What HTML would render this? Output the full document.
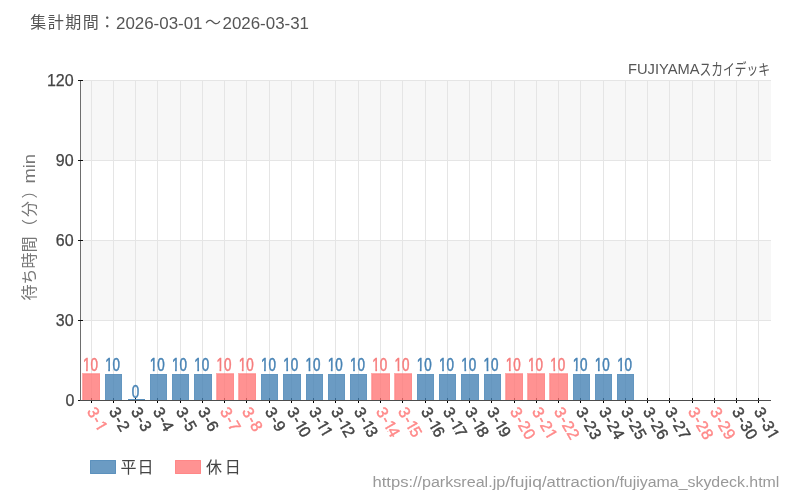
<!DOCTYPE html>
<html lang="ja"><head><meta charset="utf-8"><title>FUJIYAMAスカイデッキ 待ち時間</title>
<style>html,body{margin:0;padding:0;background:#fff;}body{width:800px;height:500px;overflow:hidden;}svg{display:block;font-family:'Liberation Sans', 'Noto Sans CJK JP', sans-serif;}</style></head><body>
<svg width="800" height="500" viewBox="0 0 800 500">
<defs><clipPath id="c1"><rect x="-3" y="-12" width="45" height="15.60"/><rect x="0.20" y="2.60" width="8.4" height="6"/><rect x="10.10" y="2.60" width="5.0" height="6"/><rect x="19.82" y="2.60" width="2.02" height="4"/></clipPath><clipPath id="c10"><rect x="-3" y="-12" width="45" height="15.60"/><rect x="0.20" y="2.60" width="8.4" height="6"/><rect x="10.10" y="2.60" width="5.0" height="6"/><rect x="19.22" y="2.60" width="2.02" height="4"/><rect x="23.50" y="2.60" width="7.7" height="6"/></clipPath><clipPath id="c11"><rect x="-3" y="-12" width="45" height="15.60"/><rect x="0.20" y="2.60" width="8.4" height="6"/><rect x="10.10" y="2.60" width="5.0" height="6"/><rect x="19.22" y="2.60" width="2.02" height="4"/><rect x="26.32" y="2.60" width="2.02" height="4"/></clipPath><clipPath id="c12"><rect x="-3" y="-12" width="45" height="15.60"/><rect x="0.20" y="2.60" width="8.4" height="6"/><rect x="10.10" y="2.60" width="5.0" height="6"/><rect x="19.22" y="2.60" width="2.02" height="4"/><rect x="23.50" y="2.60" width="7.7" height="6"/></clipPath><clipPath id="c13"><rect x="-3" y="-12" width="45" height="15.60"/><rect x="0.20" y="2.60" width="8.4" height="6"/><rect x="10.10" y="2.60" width="5.0" height="6"/><rect x="19.22" y="2.60" width="2.02" height="4"/><rect x="23.50" y="2.60" width="7.7" height="6"/></clipPath><clipPath id="c14"><rect x="-3" y="-12" width="45" height="15.60"/><rect x="0.20" y="2.60" width="8.4" height="6"/><rect x="10.10" y="2.60" width="5.0" height="6"/><rect x="19.22" y="2.60" width="2.02" height="4"/><rect x="23.50" y="2.60" width="7.7" height="6"/></clipPath><clipPath id="c15"><rect x="-3" y="-12" width="45" height="15.60"/><rect x="0.20" y="2.60" width="8.4" height="6"/><rect x="10.10" y="2.60" width="5.0" height="6"/><rect x="19.22" y="2.60" width="2.02" height="4"/><rect x="23.50" y="2.60" width="7.7" height="6"/></clipPath><clipPath id="c16"><rect x="-3" y="-12" width="45" height="15.60"/><rect x="0.20" y="2.60" width="8.4" height="6"/><rect x="10.10" y="2.60" width="5.0" height="6"/><rect x="19.22" y="2.60" width="2.02" height="4"/><rect x="23.50" y="2.60" width="7.7" height="6"/></clipPath><clipPath id="c17"><rect x="-3" y="-12" width="45" height="15.60"/><rect x="0.20" y="2.60" width="8.4" height="6"/><rect x="10.10" y="2.60" width="5.0" height="6"/><rect x="19.22" y="2.60" width="2.02" height="4"/><rect x="23.50" y="2.60" width="7.7" height="6"/></clipPath><clipPath id="c18"><rect x="-3" y="-12" width="45" height="15.60"/><rect x="0.20" y="2.60" width="8.4" height="6"/><rect x="10.10" y="2.60" width="5.0" height="6"/><rect x="19.22" y="2.60" width="2.02" height="4"/><rect x="23.50" y="2.60" width="7.7" height="6"/></clipPath><clipPath id="c19"><rect x="-3" y="-12" width="45" height="15.60"/><rect x="0.20" y="2.60" width="8.4" height="6"/><rect x="10.10" y="2.60" width="5.0" height="6"/><rect x="19.22" y="2.60" width="2.02" height="4"/><rect x="23.50" y="2.60" width="7.7" height="6"/></clipPath><clipPath id="c21"><rect x="-3" y="-12" width="45" height="15.60"/><rect x="0.20" y="2.60" width="8.4" height="6"/><rect x="10.10" y="2.60" width="5.0" height="6"/><rect x="16.30" y="2.60" width="8.4" height="6"/><rect x="28.92" y="2.60" width="2.02" height="4"/></clipPath><clipPath id="c31"><rect x="-3" y="-12" width="45" height="15.60"/><rect x="0.20" y="2.60" width="8.4" height="6"/><rect x="10.10" y="2.60" width="5.0" height="6"/><rect x="16.30" y="2.60" width="8.4" height="6"/><rect x="28.92" y="2.60" width="2.02" height="4"/></clipPath><clipPath id="c10v"><rect x="-13" y="-17" width="26" height="14.8"/><rect x="0.2" y="-3.2" width="10.5" height="6"/><rect x="-5.7" y="-3.2" width="2.2" height="4"/></clipPath></defs>
<rect width="800" height="500" fill="#fff"/>
<rect x="81" y="80" width="690" height="80" fill="#f7f7f7"/>
<rect x="81" y="240" width="690" height="80" fill="#f7f7f7"/>
<rect x="81" y="80" width="690" height="1" fill="#e5e5e5"/>
<rect x="81" y="160" width="690" height="1" fill="#e5e5e5"/>
<rect x="81" y="240" width="690" height="1" fill="#e5e5e5"/>
<rect x="81" y="320" width="690" height="1" fill="#e5e5e5"/>
<rect x="91" y="80" width="1" height="320" fill="#e5e5e5"/>
<rect x="113" y="80" width="1" height="320" fill="#e5e5e5"/>
<rect x="135" y="80" width="1" height="320" fill="#e5e5e5"/>
<rect x="157" y="80" width="1" height="320" fill="#e5e5e5"/>
<rect x="180" y="80" width="1" height="320" fill="#e5e5e5"/>
<rect x="202" y="80" width="1" height="320" fill="#e5e5e5"/>
<rect x="224" y="80" width="1" height="320" fill="#e5e5e5"/>
<rect x="246" y="80" width="1" height="320" fill="#e5e5e5"/>
<rect x="269" y="80" width="1" height="320" fill="#e5e5e5"/>
<rect x="291" y="80" width="1" height="320" fill="#e5e5e5"/>
<rect x="313" y="80" width="1" height="320" fill="#e5e5e5"/>
<rect x="335" y="80" width="1" height="320" fill="#e5e5e5"/>
<rect x="358" y="80" width="1" height="320" fill="#e5e5e5"/>
<rect x="380" y="80" width="1" height="320" fill="#e5e5e5"/>
<rect x="402" y="80" width="1" height="320" fill="#e5e5e5"/>
<rect x="425" y="80" width="1" height="320" fill="#e5e5e5"/>
<rect x="447" y="80" width="1" height="320" fill="#e5e5e5"/>
<rect x="469" y="80" width="1" height="320" fill="#e5e5e5"/>
<rect x="491" y="80" width="1" height="320" fill="#e5e5e5"/>
<rect x="514" y="80" width="1" height="320" fill="#e5e5e5"/>
<rect x="536" y="80" width="1" height="320" fill="#e5e5e5"/>
<rect x="558" y="80" width="1" height="320" fill="#e5e5e5"/>
<rect x="580" y="80" width="1" height="320" fill="#e5e5e5"/>
<rect x="603" y="80" width="1" height="320" fill="#e5e5e5"/>
<rect x="625" y="80" width="1" height="320" fill="#e5e5e5"/>
<rect x="647" y="80" width="1" height="320" fill="#e5e5e5"/>
<rect x="669" y="80" width="1" height="320" fill="#e5e5e5"/>
<rect x="692" y="80" width="1" height="320" fill="#e5e5e5"/>
<rect x="714" y="80" width="1" height="320" fill="#e5e5e5"/>
<rect x="736" y="80" width="1" height="320" fill="#e5e5e5"/>
<rect x="758" y="80" width="1" height="320" fill="#e5e5e5"/>
<rect x="91" y="398" width="1" height="5" fill="#000"/>
<rect x="113" y="398" width="1" height="5" fill="#000"/>
<rect x="135" y="398" width="1" height="5" fill="#000"/>
<rect x="157" y="398" width="1" height="5" fill="#000"/>
<rect x="180" y="398" width="1" height="5" fill="#000"/>
<rect x="202" y="398" width="1" height="5" fill="#000"/>
<rect x="224" y="398" width="1" height="5" fill="#000"/>
<rect x="246" y="398" width="1" height="5" fill="#000"/>
<rect x="269" y="398" width="1" height="5" fill="#000"/>
<rect x="291" y="398" width="1" height="5" fill="#000"/>
<rect x="313" y="398" width="1" height="5" fill="#000"/>
<rect x="335" y="398" width="1" height="5" fill="#000"/>
<rect x="358" y="398" width="1" height="5" fill="#000"/>
<rect x="380" y="398" width="1" height="5" fill="#000"/>
<rect x="402" y="398" width="1" height="5" fill="#000"/>
<rect x="425" y="398" width="1" height="5" fill="#000"/>
<rect x="447" y="398" width="1" height="5" fill="#000"/>
<rect x="469" y="398" width="1" height="5" fill="#000"/>
<rect x="491" y="398" width="1" height="5" fill="#000"/>
<rect x="514" y="398" width="1" height="5" fill="#000"/>
<rect x="536" y="398" width="1" height="5" fill="#000"/>
<rect x="558" y="398" width="1" height="5" fill="#000"/>
<rect x="580" y="398" width="1" height="5" fill="#000"/>
<rect x="603" y="398" width="1" height="5" fill="#000"/>
<rect x="625" y="398" width="1" height="5" fill="#000"/>
<rect x="647" y="398" width="1" height="5" fill="#000"/>
<rect x="669" y="398" width="1" height="5" fill="#000"/>
<rect x="692" y="398" width="1" height="5" fill="#000"/>
<rect x="714" y="398" width="1" height="5" fill="#000"/>
<rect x="736" y="398" width="1" height="5" fill="#000"/>
<rect x="758" y="398" width="1" height="5" fill="#000"/>
<path d="M82.0 373H100.0V374H83.0V400H82.0Z" fill="#ff7777" fill-opacity="0.62"/>
<rect x="83.0" y="374.0" width="17.0" height="26.5" fill="#ff7777" fill-opacity="0.8"/>
<path d="M83.5 400V374.5H99.5V400" fill="none" stroke="#ff7777" stroke-width="1" stroke-opacity="0.2"/>
<rect x="105.0" y="374.0" width="17.0" height="26.5" fill="#4682b4" fill-opacity="0.8"/>
<path d="M105.5 400V374.5H121.5V400" fill="none" stroke="#4682b4" stroke-width="1" stroke-opacity="0.2"/>
<rect x="128.0" y="399" width="17.0" height="1" fill="#4682b4" fill-opacity="0.9"/>
<rect x="150.0" y="374.0" width="17.0" height="26.5" fill="#4682b4" fill-opacity="0.8"/>
<path d="M150.5 400V374.5H166.5V400" fill="none" stroke="#4682b4" stroke-width="1" stroke-opacity="0.2"/>
<rect x="172.0" y="374.0" width="17.0" height="26.5" fill="#4682b4" fill-opacity="0.8"/>
<path d="M172.5 400V374.5H188.5V400" fill="none" stroke="#4682b4" stroke-width="1" stroke-opacity="0.2"/>
<rect x="194.0" y="374.0" width="18.0" height="26.5" fill="#4682b4" fill-opacity="0.8"/>
<path d="M194.5 400V374.5H211.5V400" fill="none" stroke="#4682b4" stroke-width="1" stroke-opacity="0.2"/>
<path d="M216.0 373H234.0V374H217.0V400H216.0Z" fill="#ff7777" fill-opacity="0.62"/>
<rect x="217.0" y="374.0" width="17.0" height="26.5" fill="#ff7777" fill-opacity="0.8"/>
<path d="M217.5 400V374.5H233.5V400" fill="none" stroke="#ff7777" stroke-width="1" stroke-opacity="0.2"/>
<path d="M238.0 373H256.0V374H239.0V400H238.0Z" fill="#ff7777" fill-opacity="0.62"/>
<rect x="239.0" y="374.0" width="17.0" height="26.5" fill="#ff7777" fill-opacity="0.8"/>
<path d="M239.5 400V374.5H255.5V400" fill="none" stroke="#ff7777" stroke-width="1" stroke-opacity="0.2"/>
<rect x="261.0" y="374.0" width="17.0" height="26.5" fill="#4682b4" fill-opacity="0.8"/>
<path d="M261.5 400V374.5H277.5V400" fill="none" stroke="#4682b4" stroke-width="1" stroke-opacity="0.2"/>
<rect x="283.0" y="374.0" width="18.0" height="26.5" fill="#4682b4" fill-opacity="0.8"/>
<path d="M283.5 400V374.5H300.5V400" fill="none" stroke="#4682b4" stroke-width="1" stroke-opacity="0.2"/>
<rect x="306.0" y="374.0" width="17.0" height="26.5" fill="#4682b4" fill-opacity="0.8"/>
<path d="M306.5 400V374.5H322.5V400" fill="none" stroke="#4682b4" stroke-width="1" stroke-opacity="0.2"/>
<rect x="328.0" y="374.0" width="17.0" height="26.5" fill="#4682b4" fill-opacity="0.8"/>
<path d="M328.5 400V374.5H344.5V400" fill="none" stroke="#4682b4" stroke-width="1" stroke-opacity="0.2"/>
<rect x="350.0" y="374.0" width="17.0" height="26.5" fill="#4682b4" fill-opacity="0.8"/>
<path d="M350.5 400V374.5H366.5V400" fill="none" stroke="#4682b4" stroke-width="1" stroke-opacity="0.2"/>
<path d="M371.0 373H390.0V374H372.0V400H371.0Z" fill="#ff7777" fill-opacity="0.62"/>
<rect x="372.0" y="374.0" width="18.0" height="26.5" fill="#ff7777" fill-opacity="0.8"/>
<path d="M372.5 400V374.5H389.5V400" fill="none" stroke="#ff7777" stroke-width="1" stroke-opacity="0.2"/>
<path d="M394.0 373H412.0V374H395.0V400H394.0Z" fill="#ff7777" fill-opacity="0.62"/>
<rect x="395.0" y="374.0" width="17.0" height="26.5" fill="#ff7777" fill-opacity="0.8"/>
<path d="M395.5 400V374.5H411.5V400" fill="none" stroke="#ff7777" stroke-width="1" stroke-opacity="0.2"/>
<rect x="417.0" y="374.0" width="17.0" height="26.5" fill="#4682b4" fill-opacity="0.8"/>
<path d="M417.5 400V374.5H433.5V400" fill="none" stroke="#4682b4" stroke-width="1" stroke-opacity="0.2"/>
<rect x="439.0" y="374.0" width="17.0" height="26.5" fill="#4682b4" fill-opacity="0.8"/>
<path d="M439.5 400V374.5H455.5V400" fill="none" stroke="#4682b4" stroke-width="1" stroke-opacity="0.2"/>
<rect x="461.0" y="374.0" width="18.0" height="26.5" fill="#4682b4" fill-opacity="0.8"/>
<path d="M461.5 400V374.5H478.5V400" fill="none" stroke="#4682b4" stroke-width="1" stroke-opacity="0.2"/>
<rect x="484.0" y="374.0" width="17.0" height="26.5" fill="#4682b4" fill-opacity="0.8"/>
<path d="M484.5 400V374.5H500.5V400" fill="none" stroke="#4682b4" stroke-width="1" stroke-opacity="0.2"/>
<path d="M505.0 373H523.0V374H506.0V400H505.0Z" fill="#ff7777" fill-opacity="0.62"/>
<rect x="506.0" y="374.0" width="17.0" height="26.5" fill="#ff7777" fill-opacity="0.8"/>
<path d="M506.5 400V374.5H522.5V400" fill="none" stroke="#ff7777" stroke-width="1" stroke-opacity="0.2"/>
<path d="M527.0 373H545.0V374H528.0V400H527.0Z" fill="#ff7777" fill-opacity="0.62"/>
<rect x="528.0" y="374.0" width="17.0" height="26.5" fill="#ff7777" fill-opacity="0.8"/>
<path d="M528.5 400V374.5H544.5V400" fill="none" stroke="#ff7777" stroke-width="1" stroke-opacity="0.2"/>
<path d="M549.0 373H568.0V374H550.0V400H549.0Z" fill="#ff7777" fill-opacity="0.62"/>
<rect x="550.0" y="374.0" width="18.0" height="26.5" fill="#ff7777" fill-opacity="0.8"/>
<path d="M550.5 400V374.5H567.5V400" fill="none" stroke="#ff7777" stroke-width="1" stroke-opacity="0.2"/>
<rect x="573.0" y="374.0" width="17.0" height="26.5" fill="#4682b4" fill-opacity="0.8"/>
<path d="M573.5 400V374.5H589.5V400" fill="none" stroke="#4682b4" stroke-width="1" stroke-opacity="0.2"/>
<rect x="595.0" y="374.0" width="17.0" height="26.5" fill="#4682b4" fill-opacity="0.8"/>
<path d="M595.5 400V374.5H611.5V400" fill="none" stroke="#4682b4" stroke-width="1" stroke-opacity="0.2"/>
<rect x="617.0" y="374.0" width="17.0" height="26.5" fill="#4682b4" fill-opacity="0.8"/>
<path d="M617.5 400V374.5H633.5V400" fill="none" stroke="#4682b4" stroke-width="1" stroke-opacity="0.2"/>
<rect x="80" y="80" width="1" height="321" fill="#6e6e6e"/>
<rect x="78" y="80" width="5" height="1" fill="#111"/>
<text x="73.6" y="86.3" text-anchor="end" font-size="16" fill="#444" stroke="#444" stroke-width="0.25">120</text>
<rect x="78" y="160" width="5" height="1" fill="#111"/>
<text x="73.6" y="166.3" text-anchor="end" font-size="16" fill="#444" stroke="#444" stroke-width="0.25">90</text>
<rect x="78" y="240" width="5" height="1" fill="#111"/>
<text x="73.6" y="246.3" text-anchor="end" font-size="16" fill="#444" stroke="#444" stroke-width="0.25">60</text>
<rect x="78" y="320" width="5" height="1" fill="#111"/>
<text x="73.6" y="326.3" text-anchor="end" font-size="16" fill="#444" stroke="#444" stroke-width="0.25">30</text>
<rect x="78" y="400" width="5" height="1" fill="#111"/>
<text x="74.4" y="406.3" text-anchor="end" font-size="16" fill="#444" stroke="#444" stroke-width="0.25">0</text>
<rect x="80" y="400" width="691" height="1" fill="#4d4d4d"/>
<text transform="translate(91.5,408.3) rotate(60)" x="0.0 9.9 16.1" y="5.7" font-size="16" fill="#ff8a8a" stroke="#ff8a8a" stroke-width="0.45" clip-path="url(#c1)">3-1</text>
<text transform="translate(113.5,408.3) rotate(60)" x="0.0 9.9 16.1" y="5.7" font-size="16" fill="#444" stroke="#444" stroke-width="0.45">3-2</text>
<text transform="translate(135.5,408.3) rotate(60)" x="0.0 9.9 16.1" y="5.7" font-size="16" fill="#444" stroke="#444" stroke-width="0.45">3-3</text>
<text transform="translate(157.5,408.3) rotate(60)" x="0.0 9.9 16.1" y="5.7" font-size="16" fill="#444" stroke="#444" stroke-width="0.45">3-4</text>
<text transform="translate(180.5,408.3) rotate(60)" x="0.0 9.9 16.1" y="5.7" font-size="16" fill="#444" stroke="#444" stroke-width="0.45">3-5</text>
<text transform="translate(202.5,408.3) rotate(60)" x="0.0 9.9 16.1" y="5.7" font-size="16" fill="#444" stroke="#444" stroke-width="0.45">3-6</text>
<text transform="translate(224.5,408.3) rotate(60)" x="0.0 9.9 16.1" y="5.7" font-size="16" fill="#ff8a8a" stroke="#ff8a8a" stroke-width="0.45">3-7</text>
<text transform="translate(246.5,408.3) rotate(60)" x="0.0 9.9 16.1" y="5.7" font-size="16" fill="#ff8a8a" stroke="#ff8a8a" stroke-width="0.45">3-8</text>
<text transform="translate(269.5,408.3) rotate(60)" x="0.0 9.9 16.1" y="5.7" font-size="16" fill="#444" stroke="#444" stroke-width="0.45">3-9</text>
<text transform="translate(291.5,408.3) rotate(60)" x="0.0 9.9 15.5 22.6" y="5.7" font-size="16" fill="#444" stroke="#444" stroke-width="0.45" clip-path="url(#c10)">3-10</text>
<text transform="translate(313.5,408.3) rotate(60)" x="0.0 9.9 15.5 22.6" y="5.7" font-size="16" fill="#444" stroke="#444" stroke-width="0.45" clip-path="url(#c11)">3-11</text>
<text transform="translate(335.5,408.3) rotate(60)" x="0.0 9.9 15.5 22.6" y="5.7" font-size="16" fill="#444" stroke="#444" stroke-width="0.45" clip-path="url(#c12)">3-12</text>
<text transform="translate(358.5,408.3) rotate(60)" x="0.0 9.9 15.5 22.6" y="5.7" font-size="16" fill="#444" stroke="#444" stroke-width="0.45" clip-path="url(#c13)">3-13</text>
<text transform="translate(380.5,408.3) rotate(60)" x="0.0 9.9 15.5 22.6" y="5.7" font-size="16" fill="#ff8a8a" stroke="#ff8a8a" stroke-width="0.45" clip-path="url(#c14)">3-14</text>
<text transform="translate(402.5,408.3) rotate(60)" x="0.0 9.9 15.5 22.6" y="5.7" font-size="16" fill="#ff8a8a" stroke="#ff8a8a" stroke-width="0.45" clip-path="url(#c15)">3-15</text>
<text transform="translate(425.5,408.3) rotate(60)" x="0.0 9.9 15.5 22.6" y="5.7" font-size="16" fill="#444" stroke="#444" stroke-width="0.45" clip-path="url(#c16)">3-16</text>
<text transform="translate(447.5,408.3) rotate(60)" x="0.0 9.9 15.5 22.6" y="5.7" font-size="16" fill="#444" stroke="#444" stroke-width="0.45" clip-path="url(#c17)">3-17</text>
<text transform="translate(469.5,408.3) rotate(60)" x="0.0 9.9 15.5 22.6" y="5.7" font-size="16" fill="#444" stroke="#444" stroke-width="0.45" clip-path="url(#c18)">3-18</text>
<text transform="translate(491.5,408.3) rotate(60)" x="0.0 9.9 15.5 22.6" y="5.7" font-size="16" fill="#444" stroke="#444" stroke-width="0.45" clip-path="url(#c19)">3-19</text>
<text transform="translate(514.5,408.3) rotate(60)" x="0.0 9.9 16.1 25.2" y="5.7" font-size="16" fill="#ff8a8a" stroke="#ff8a8a" stroke-width="0.45">3-20</text>
<text transform="translate(536.5,408.3) rotate(60)" x="0.0 9.9 16.1 25.2" y="5.7" font-size="16" fill="#ff8a8a" stroke="#ff8a8a" stroke-width="0.45" clip-path="url(#c21)">3-21</text>
<text transform="translate(558.5,408.3) rotate(60)" x="0.0 9.9 16.1 25.2" y="5.7" font-size="16" fill="#ff8a8a" stroke="#ff8a8a" stroke-width="0.45">3-22</text>
<text transform="translate(580.5,408.3) rotate(60)" x="0.0 9.9 16.1 25.2" y="5.7" font-size="16" fill="#444" stroke="#444" stroke-width="0.45">3-23</text>
<text transform="translate(603.5,408.3) rotate(60)" x="0.0 9.9 16.1 25.2" y="5.7" font-size="16" fill="#444" stroke="#444" stroke-width="0.45">3-24</text>
<text transform="translate(625.5,408.3) rotate(60)" x="0.0 9.9 16.1 25.2" y="5.7" font-size="16" fill="#444" stroke="#444" stroke-width="0.45">3-25</text>
<text transform="translate(647.5,408.3) rotate(60)" x="0.0 9.9 16.1 25.2" y="5.7" font-size="16" fill="#444" stroke="#444" stroke-width="0.45">3-26</text>
<text transform="translate(669.5,408.3) rotate(60)" x="0.0 9.9 16.1 25.2" y="5.7" font-size="16" fill="#444" stroke="#444" stroke-width="0.45">3-27</text>
<text transform="translate(692.5,408.3) rotate(60)" x="0.0 9.9 16.1 25.2" y="5.7" font-size="16" fill="#ff8a8a" stroke="#ff8a8a" stroke-width="0.45">3-28</text>
<text transform="translate(714.5,408.3) rotate(60)" x="0.0 9.9 16.1 25.2" y="5.7" font-size="16" fill="#ff8a8a" stroke="#ff8a8a" stroke-width="0.45">3-29</text>
<text transform="translate(736.5,408.3) rotate(60)" x="0.0 9.9 16.1 25.2" y="5.7" font-size="16" fill="#444" stroke="#444" stroke-width="0.45">3-30</text>
<text transform="translate(758.5,408.3) rotate(60)" x="0.0 9.9 16.1 25.2" y="5.7" font-size="16" fill="#444" stroke="#444" stroke-width="0.45" clip-path="url(#c31)">3-31</text>
<text transform="translate(90.4,370.9) scale(0.76,1)" text-anchor="middle" font-size="17.7" fill="#f67c7c" stroke="#f67c7c" stroke-width="0.5" clip-path="url(#c10v)">10</text>
<text transform="translate(112.6,370.9) scale(0.76,1)" text-anchor="middle" font-size="17.7" fill="#4682b4" stroke="#4682b4" stroke-width="0.5" clip-path="url(#c10v)">10</text>
<text transform="translate(135.5,397.9) scale(0.76,1)" text-anchor="middle" font-size="17.7" fill="#4682b4" stroke="#4682b4" stroke-width="0.5">0</text>
<text transform="translate(157.2,370.9) scale(0.76,1)" text-anchor="middle" font-size="17.7" fill="#4682b4" stroke="#4682b4" stroke-width="0.5" clip-path="url(#c10v)">10</text>
<text transform="translate(179.4,370.9) scale(0.76,1)" text-anchor="middle" font-size="17.7" fill="#4682b4" stroke="#4682b4" stroke-width="0.5" clip-path="url(#c10v)">10</text>
<text transform="translate(201.7,370.9) scale(0.76,1)" text-anchor="middle" font-size="17.7" fill="#4682b4" stroke="#4682b4" stroke-width="0.5" clip-path="url(#c10v)">10</text>
<text transform="translate(223.9,370.9) scale(0.76,1)" text-anchor="middle" font-size="17.7" fill="#f67c7c" stroke="#f67c7c" stroke-width="0.5" clip-path="url(#c10v)">10</text>
<text transform="translate(246.2,370.9) scale(0.76,1)" text-anchor="middle" font-size="17.7" fill="#f67c7c" stroke="#f67c7c" stroke-width="0.5" clip-path="url(#c10v)">10</text>
<text transform="translate(268.4,370.9) scale(0.76,1)" text-anchor="middle" font-size="17.7" fill="#4682b4" stroke="#4682b4" stroke-width="0.5" clip-path="url(#c10v)">10</text>
<text transform="translate(290.7,370.9) scale(0.76,1)" text-anchor="middle" font-size="17.7" fill="#4682b4" stroke="#4682b4" stroke-width="0.5" clip-path="url(#c10v)">10</text>
<text transform="translate(313.0,370.9) scale(0.76,1)" text-anchor="middle" font-size="17.7" fill="#4682b4" stroke="#4682b4" stroke-width="0.5" clip-path="url(#c10v)">10</text>
<text transform="translate(335.2,370.9) scale(0.76,1)" text-anchor="middle" font-size="17.7" fill="#4682b4" stroke="#4682b4" stroke-width="0.5" clip-path="url(#c10v)">10</text>
<text transform="translate(357.5,370.9) scale(0.76,1)" text-anchor="middle" font-size="17.7" fill="#4682b4" stroke="#4682b4" stroke-width="0.5" clip-path="url(#c10v)">10</text>
<text transform="translate(379.7,370.9) scale(0.76,1)" text-anchor="middle" font-size="17.7" fill="#f67c7c" stroke="#f67c7c" stroke-width="0.5" clip-path="url(#c10v)">10</text>
<text transform="translate(402.0,370.9) scale(0.76,1)" text-anchor="middle" font-size="17.7" fill="#f67c7c" stroke="#f67c7c" stroke-width="0.5" clip-path="url(#c10v)">10</text>
<text transform="translate(424.2,370.9) scale(0.76,1)" text-anchor="middle" font-size="17.7" fill="#4682b4" stroke="#4682b4" stroke-width="0.5" clip-path="url(#c10v)">10</text>
<text transform="translate(446.5,370.9) scale(0.76,1)" text-anchor="middle" font-size="17.7" fill="#4682b4" stroke="#4682b4" stroke-width="0.5" clip-path="url(#c10v)">10</text>
<text transform="translate(468.8,370.9) scale(0.76,1)" text-anchor="middle" font-size="17.7" fill="#4682b4" stroke="#4682b4" stroke-width="0.5" clip-path="url(#c10v)">10</text>
<text transform="translate(491.0,370.9) scale(0.76,1)" text-anchor="middle" font-size="17.7" fill="#4682b4" stroke="#4682b4" stroke-width="0.5" clip-path="url(#c10v)">10</text>
<text transform="translate(513.3,370.9) scale(0.76,1)" text-anchor="middle" font-size="17.7" fill="#f67c7c" stroke="#f67c7c" stroke-width="0.5" clip-path="url(#c10v)">10</text>
<text transform="translate(535.5,370.9) scale(0.76,1)" text-anchor="middle" font-size="17.7" fill="#f67c7c" stroke="#f67c7c" stroke-width="0.5" clip-path="url(#c10v)">10</text>
<text transform="translate(557.8,370.9) scale(0.76,1)" text-anchor="middle" font-size="17.7" fill="#f67c7c" stroke="#f67c7c" stroke-width="0.5" clip-path="url(#c10v)">10</text>
<text transform="translate(580.1,370.9) scale(0.76,1)" text-anchor="middle" font-size="17.7" fill="#4682b4" stroke="#4682b4" stroke-width="0.5" clip-path="url(#c10v)">10</text>
<text transform="translate(602.3,370.9) scale(0.76,1)" text-anchor="middle" font-size="17.7" fill="#4682b4" stroke="#4682b4" stroke-width="0.5" clip-path="url(#c10v)">10</text>
<text transform="translate(624.6,370.9) scale(0.76,1)" text-anchor="middle" font-size="17.7" fill="#4682b4" stroke="#4682b4" stroke-width="0.5" clip-path="url(#c10v)">10</text>
<text y="28" font-size="16" fill="#555"><tspan x="30.3" letter-spacing="1.5">集計期間</tspan><tspan x="99.3">：</tspan><tspan x="116" y="29" textLength="86.5" lengthAdjust="spacingAndGlyphs">2026-03-01</tspan><tspan x="205" y="28">～</tspan><tspan x="222.5" y="29" textLength="86.5" lengthAdjust="spacingAndGlyphs">2026-03-31</tspan></text>
<text fill="#555"><tspan x="628" y="74.3" font-size="14" textLength="71.5" lengthAdjust="spacingAndGlyphs">FUJIYAMA</tspan><tspan x="699.6" y="75.1" font-size="15.5" textLength="70.5" lengthAdjust="spacingAndGlyphs">スカイデッキ</tspan></text>
<text transform="translate(35,300.5) rotate(-90)" font-size="16" fill="#777"><tspan x="0 16 32 48 65.5 83.5 102">待ち時間（分）</tspan><tspan x="117" textLength="29.5" lengthAdjust="spacingAndGlyphs">min</tspan></text>
<rect x="90.5" y="460.5" width="25" height="13" fill="#4682b4" stroke="#4682b4" stroke-width="1" fill-opacity="0.8" stroke-opacity="0.8"/>
<text x="120.4" y="473.3" font-size="16" fill="#444" letter-spacing="1.2">平日</text>
<rect x="175.5" y="460.5" width="25" height="13" fill="#ff7777" stroke="#ff7777" stroke-width="1" fill-opacity="0.8" stroke-opacity="0.8"/>
<text x="206" y="473.3" font-size="16" fill="#444" letter-spacing="2.7">休日</text>
<text y="487" font-size="15.5" fill="#999"><tspan x="372.5" textLength="36" lengthAdjust="spacingAndGlyphs">https</tspan><tspan x="408.5" textLength="96.7" lengthAdjust="spacingAndGlyphs">://parksreal.jp</tspan><tspan x="505.2" textLength="36.7" lengthAdjust="spacingAndGlyphs">/fujiq</tspan><tspan x="541.9" textLength="73.1" lengthAdjust="spacingAndGlyphs">/attraction</tspan><tspan x="615" textLength="164.4" lengthAdjust="spacingAndGlyphs">/fujiyama_skydeck.html</tspan></text>
</svg></body></html>
